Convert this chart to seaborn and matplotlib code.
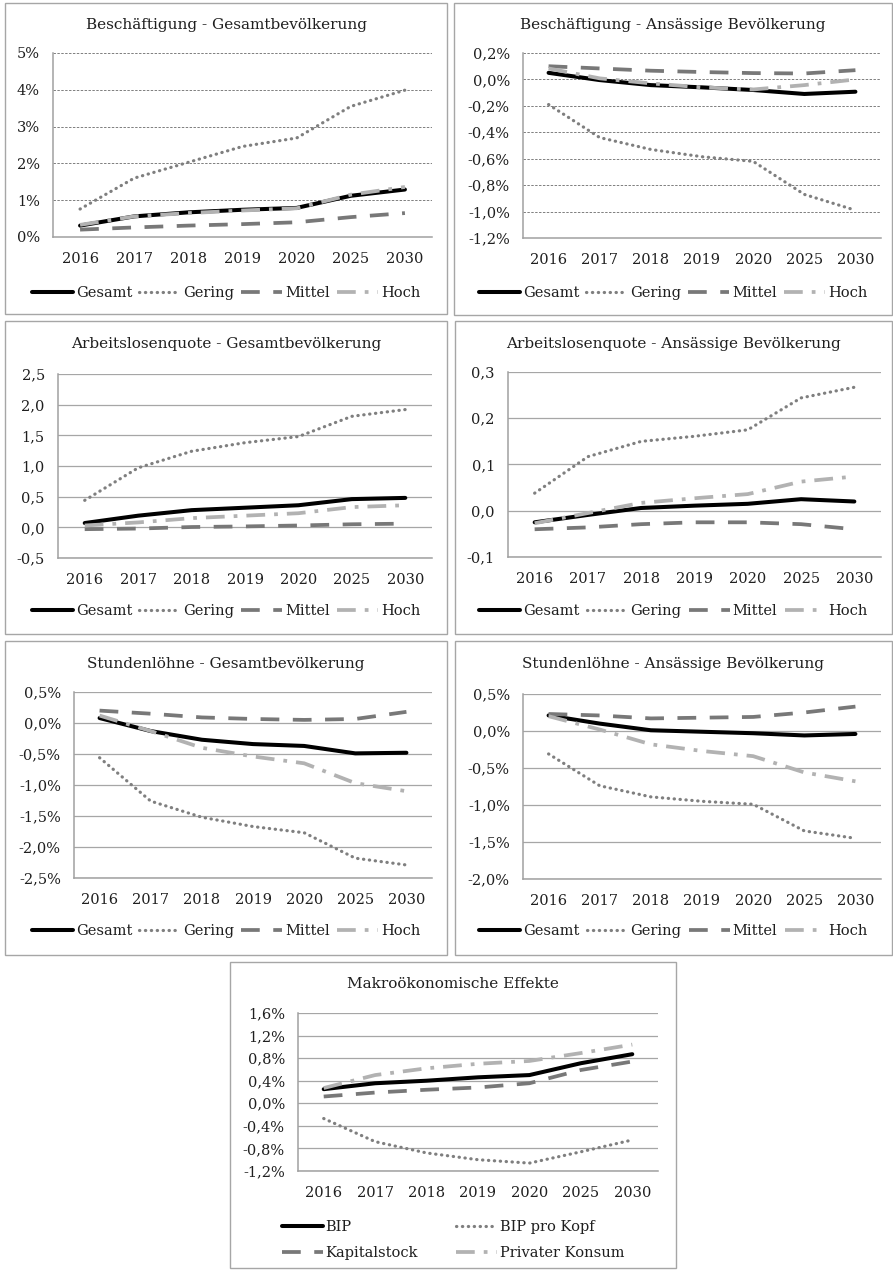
import numpy as np
import pandas as pd
import seaborn as sns
import matplotlib.pyplot as plt
from matplotlib.patches import Rectangle
from matplotlib.lines import Line2D

# Kategorien
years = ['2016', '2017', '2018', '2019', '2020', '2025', '2030']
groups = ['Gesamt', 'Gering', 'Mittel', 'Hoch']
macro_groups = ['BIP', 'BIP pro Kopf', 'Kapitalstock', 'Privater Konsum']

# Beschäftigung - Gesamtbevölkerung (%)
besch_gesamt = {
    'Gesamt': [0.31, 0.56, 0.67, 0.74, 0.79, 1.12, 1.29],
    'Gering': [0.76, 1.60, 2.03, 2.46, 2.69, 3.55, 3.99],
    'Mittel': [0.20, 0.26, 0.31, 0.35, 0.40, 0.54, 0.65],
    'Hoch':   [0.33, 0.56, 0.65, 0.72, 0.78, 1.15, 1.36],
}
# Beschäftigung - Ansässige Bevölkerung (%)
besch_ansaessig = {
    'Gesamt': [0.05, -0.005, -0.043, -0.06, -0.08, -0.11, -0.093],
    'Gering': [-0.19, -0.44, -0.53, -0.585, -0.62, -0.87, -0.99],
    'Mittel': [0.10, 0.083, 0.066, 0.056, 0.048, 0.045, 0.07],
    'Hoch':   [0.083, 0.008, -0.03, -0.06, -0.076, -0.043, 0.0],
}
# Arbeitslosenquote - Gesamtbevölkerung
alq_gesamt = {
    'Gesamt': [0.07, 0.19, 0.28, 0.32, 0.36, 0.46, 0.48],
    'Gering': [0.44, 0.97, 1.24, 1.38, 1.48, 1.81, 1.92],
    'Mittel': [-0.03, -0.02, 0.005, 0.015, 0.03, 0.05, 0.06],
    'Hoch':   [0.03, 0.08, 0.15, 0.19, 0.23, 0.33, 0.36],
}
# Arbeitslosenquote - Ansässige Bevölkerung
alq_ansaessig = {
    'Gesamt': [-0.025, -0.009, 0.006, 0.011, 0.015, 0.025, 0.02],
    'Gering': [0.038, 0.117, 0.15, 0.161, 0.175, 0.244, 0.267],
    'Mittel': [-0.04, -0.036, -0.029, -0.025, -0.025, -0.029, -0.04],
    'Hoch':   [-0.027, -0.005, 0.017, 0.027, 0.036, 0.063, 0.074],
}
# Stundenlöhne - Gesamtbevölkerung (%)
lohn_gesamt = {
    'Gesamt': [0.08, -0.13, -0.27, -0.34, -0.37, -0.49, -0.48],
    'Gering': [-0.56, -1.26, -1.52, -1.67, -1.77, -2.18, -2.29],
    'Mittel': [0.20, 0.15, 0.09, 0.065, 0.05, 0.065, 0.18],
    'Hoch':   [0.12, -0.13, -0.40, -0.54, -0.65, -0.97, -1.10],
}
# Stundenlöhne - Ansässige Bevölkerung (%)
lohn_ansaessig = {
    'Gesamt': [0.21, 0.10, 0.01, -0.01, -0.03, -0.06, -0.04],
    'Gering': [-0.31, -0.74, -0.89, -0.95, -0.99, -1.35, -1.45],
    'Mittel': [0.23, 0.21, 0.17, 0.18, 0.19, 0.25, 0.33],
    'Hoch':   [0.20, 0.02, -0.18, -0.27, -0.34, -0.56, -0.68],
}
# Makroökonomische Effekte (%)
makro = {
    'BIP':             [0.25, 0.355, 0.40, 0.46, 0.50, 0.71, 0.87],
    'BIP pro Kopf':    [-0.27, -0.68, -0.88, -1.00, -1.06, -0.86, -0.65],
    'Kapitalstock':    [0.12, 0.19, 0.24, 0.28, 0.355, 0.59, 0.74],
    'Privater Konsum': [0.27, 0.50, 0.62, 0.70, 0.75, 0.89, 1.04],
}

sns.set_style('white')
plt.rcParams['font.family'] = ['DejaVu Serif']
plt.rcParams['font.size'] = 10.5
plt.rcParams['text.color'] = '#1f1f1f'
plt.rcParams['xtick.color'] = '#1f1f1f'
plt.rcParams['ytick.color'] = '#1f1f1f'

W, H = 893, 1270
fig = plt.figure(figsize=(W / 100, H / 100), dpi=100)

# linienstile je Reihe (Reihenfolge wie Excel)
styles = [
    dict(color='black', lw=2.9, ls='-'),
    dict(color='#7f7f7f', lw=2.3, ls=(0, (0.1, 1.75)), dash_capstyle='round'),
    dict(color='#787878', lw=2.7, ls=(0, (5.0, 3.6))),
    dict(color='#b2b2b2', lw=2.7, ls=(0, (5.0, 2.4, 1.0, 2.4))),
]


def rect(x0, y0, x1, y1):
    return [x0 / W, 1 - y1 / H, (x1 - x0) / W, (y1 - y0) / H]


def fmt(v, dec, pct):
    v = round(v, 6) + 0.0
    s = f'{v:.{dec}f}'.replace('.', ',')
    return s + ('%' if pct else '')


def panel(data, names, title, box, axpos, ticks, dec, pct, grid_dashed,
          title_y, leg_y, two_rows=False):
    x0, y0, x1, y1 = box
    fig.patches.append(Rectangle((x0 / W, 1 - y1 / H), (x1 - x0) / W, (y1 - y0) / H,
                                 transform=fig.transFigure, fill=False,
                                 edgecolor='#a6a6a6', lw=1))
    ax = fig.add_axes(rect(*axpos))
    xs = np.arange(len(years))
    for name, st in zip(names, styles):
        extra = {k: v for k, v in st.items() if k == 'dash_capstyle'}
        sns.lineplot(x=xs, y=data[name], ax=ax, color=st['color'],
                     linewidth=st['lw'], linestyle=st['ls'], **extra)
    ax.set_xlim(-0.5, len(years) - 0.5)
    ax.set_ylim(ticks[0], ticks[-1])
    ax.set_yticks(ticks)
    ax.set_yticklabels([fmt(t, dec, pct) for t in ticks])
    ax.set_xticks(xs)
    ax.set_xticklabels(years)
    ax.set_xticks(np.arange(-0.5, len(years)), minor=True)
    ax.tick_params(axis='x', which='major', length=0, pad=11, labelsize=10.5)
    ax.tick_params(axis='x', which='minor', length=4, width=1, color='#a0a0a0')
    ax.tick_params(axis='y', length=3.5, width=1, color='#a0a0a0', pad=6,
                   labelsize=10.5)
    for sp in ['top', 'right']:
        ax.spines[sp].set_visible(False)
    for sp in ['left', 'bottom']:
        ax.spines[sp].set_color('#a0a0a0')
        ax.spines[sp].set_linewidth(1.1)
    if grid_dashed:
        ax.grid(axis='y', color='#7f7f7f', lw=0.7, ls=(0, (2.5, 1.5)))
    else:
        ax.grid(axis='y', color='#a6a6a6', lw=0.9, ls='-')
    ax.grid(axis='x', visible=False)
    ax.set_axisbelow(True)
    ax.set_xlabel('')
    ax.set_ylabel('')
    cx = (x0 + x1) / 2 / W
    fig.text(cx, 1 - title_y / H, title, ha='center', va='center', fontsize=11)
    handles = []
    for name, st in zip(names, styles):
        extra = {k: v for k, v in st.items() if k == 'dash_capstyle'}
        handles.append(Line2D([], [], color=st['color'], lw=st['lw'],
                              ls=st['ls'], label=name, **extra))
    if two_rows:
        handles = [handles[i] for i in [0, 2, 1, 3]]
        fig.legend(handles=handles, loc='center', ncol=2, frameon=False,
                   bbox_to_anchor=(cx, 1 - leg_y / H), handlelength=2.8,
                   handletextpad=0.2, columnspacing=2.6, labelspacing=0.85,
                   fontsize=10.5)
    else:
        fig.legend(handles=handles, loc='center', ncol=4, frameon=False,
                   bbox_to_anchor=(cx, 1 - leg_y / H), handlelength=2.8,
                   handletextpad=0.2, columnspacing=0.5, fontsize=10.5)
    return ax


panel(besch_gesamt, groups, 'Beschäftigung - Gesamtbevölkerung',
      (5, 3, 447, 314), (53, 53, 432, 237), np.arange(0, 6, 1.0), 0, True, True,
      25, 293)
panel(besch_ansaessig, groups, 'Beschäftigung - Ansässige Bevölkerung',
      (454, 3, 892, 315), (523, 53, 881, 238), np.linspace(-1.2, 0.2, 8), 1, True, True,
      25, 293)
panel(alq_gesamt, groups, 'Arbeitslosenquote - Gesamtbevölkerung',
      (5, 321, 447, 634), (58, 374, 432, 558), np.linspace(-0.5, 2.5, 7), 1, False, False,
      344, 611)
panel(alq_ansaessig, groups, 'Arbeitslosenquote - Ansässige Bevölkerung',
      (455, 321, 892, 634), (508, 372, 881, 557), np.linspace(-0.1, 0.3, 5), 1, False, False,
      344, 611)
panel(lohn_gesamt, groups, 'Stundenlöhne - Gesamtbevölkerung',
      (5, 641, 447, 955), (74, 692, 432, 878), np.linspace(-2.5, 0.5, 7), 1, True, False,
      664, 931)
panel(lohn_ansaessig, groups, 'Stundenlöhne - Ansässige Bevölkerung',
      (455, 641, 892, 955), (523, 694, 881, 879), np.linspace(-2.0, 0.5, 6), 1, True, False,
      664, 931)
panel(makro, macro_groups, 'Makroökonomische Effekte',
      (230, 962, 676, 1268), (298, 1013, 658, 1171), np.linspace(-1.2, 1.6, 8), 1, True, False,
      984, 1240, two_rows=True)

fig.savefig('out.png', dpi=100)
